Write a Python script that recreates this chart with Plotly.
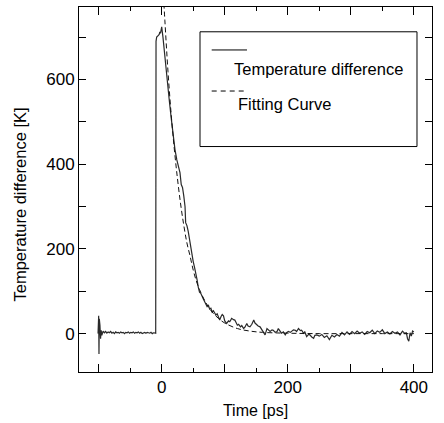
import plotly.graph_objects as go

time_ps = [
    -101, -100, -99.5, -99, -98.5, -98, -97, -96, -95, -93, -91, -89, -87, -85, -83, -81,
    -79, -77, -75, -73, -71, -69, -67, -65, -63, -61, -59, -57, -55, -53, -51, -49,
    -47, -45, -43, -41, -39, -37, -35, -33, -31, -29, -27, -25, -23, -21, -19, -17,
    -15, -13, -11, -9.5, -9, -8, -6, -4, -3, -2, -1, 0,
    2, 5, 8, 12, 15, 18, 21, 24, 27, 29, 31, 33, 35, 37, 38, 40, 42, 44, 46, 48,
    50, 52, 54, 56, 58, 60, 62, 64, 66, 68, 70, 72, 74, 76, 78, 80, 82, 84, 86, 88,
    90, 92, 94, 96, 98, 100, 103, 106, 108, 111, 114, 116, 118, 120, 122, 125, 127, 130,
    132, 135, 137, 140, 143, 146, 148, 151, 153, 156, 158, 161, 164, 167, 170, 172, 175,
    177, 180, 183, 185, 188, 190, 193, 196, 198, 201, 204, 206, 209, 212, 214, 217, 220,
    222, 225, 227, 230, 233, 235, 238, 241, 243, 246, 250, 254, 258, 262, 266, 270, 274,
    278, 282, 286, 290, 294, 298, 302, 306, 310, 314, 318, 322, 326, 330, 334, 338, 342,
    346, 350, 354, 358, 362, 366, 370, 374, 378, 382, 386, 388, 390, 392, 394, 396, 398, 400,
]
temp_diff_K = [
    0, 42, -48, 35, -30, 20, -12, 8, -4, 6, 2, 5, 1, 4, 2, 5,
    1, 3, 0, 4, 2, 3, 1, 4, 2, 3, 0, 3, 2, 4, 1, 3,
    2, 4, 1, 3, 2, 4, 1, 3, 0, 2, 3, 1, 3, 2, 1, 3,
    0, 2, 1, 1, 690, 700, 703, 706, 712, 709, 716, 724,
    700, 650, 600, 551, 510, 470, 435, 410, 388, 380, 352, 345, 325, 300, 262, 255, 242, 222, 200, 185,
    170, 157, 145, 128, 110, 98, 95, 86, 82, 76, 70, 64, 68, 58, 60, 51, 54, 50, 44, 47,
    40, 32, 40, 45, 42, 30, 24, 30, 28, 36, 33, 32, 26, 20, 22, 16, 19, 12,
    15, 24, 18, 16, 22, 32, 25, 20, 18, 16, 12, 5, -3, 12, 8, 5, 9,
    8, 3, 5, 12, 4, 1, 4, -3, 2, 5, 3, 5, 9, 8, 5, 12, 7,
    8, 1, 4, -7, -2, -3, -8, -11, -4, -3, -6, -2, -9, -5, -14, -4, -8,
    -2, -6, 3, -3, 4, -2, 5, 0, 6, 1, 4, -2, 5, 2, 8, 0, 6,
    3, 9, 0, 4, -1, 5, 1, 4, -3, 6, 0, 3, -12, -18, 2, -6, 6, 4,
]

# ---- fitting curve ----
fit_time_ps = [2, 5, 10, 15, 20, 25, 30, 35, 40, 45, 50, 55, 60, 70, 80, 90, 100,
               120, 140, 160, 200, 250, 300, 350, 400]
fit_temp_K = [817, 740, 618, 518, 436, 366, 306, 256, 214, 183, 150, 124, 104, 73, 51, 36, 25,
              12, 6, 3, 1, 0, 0, 0, 0]

x_tick_vals = [-100, 0, 100, 200, 300, 400]
x_tick_text = ["", "0", "", "200", "", "400"]
y_tick_vals = [0, 100, 200, 300, 400, 500, 600, 700]
y_tick_text = ["0", "", "200", "", "400", "", "600", ""]

legend_names = ["Temperature difference", "Fitting Curve"]
x_title = "Time [ps]"
y_title = "Temperature difference [K]"

FONT = "Liberation Sans, Arial, sans-serif"

fig = go.Figure()
fig.add_trace(go.Scatter(x=time_ps, y=temp_diff_K, mode="lines",
                         line=dict(color="#2a2a2a", width=1.2),
                         name=legend_names[0], showlegend=False))
fig.add_trace(go.Scatter(x=fit_time_ps, y=fit_temp_K, mode="lines",
                         line=dict(color="#111111", width=1, dash="5px,3px", shape="spline"),
                         name=legend_names[1], showlegend=False))

axis_common = dict(showgrid=False, zeroline=False, showline=True, linecolor="black",
                   linewidth=1, mirror="ticks", ticks="inside", tickcolor="black",
                   tickwidth=1, tickfont=dict(family=FONT, size=17, color="black"))

fig.update_xaxes(range=[-131.2, 428.8], tickmode="array", tickvals=x_tick_vals,
                 ticktext=x_tick_text, ticklen=8,
                 minor=dict(tickmode="array", tickvals=[-50, 50, 150, 250, 350],
                            ticks="inside", ticklen=4, tickcolor="black", tickwidth=1),
                 title=dict(text=x_title, font=dict(family=FONT, size=16, color="black"),
                            standoff=8),
                 **axis_common)
fig.update_yaxes(range=[-90.6, 771], tickmode="array", tickvals=y_tick_vals,
                 ticktext=y_tick_text, ticklen=7, **axis_common)

# manual legend box (line sample above, text offset below)
shapes = [
    dict(type="rect", xref="paper", yref="paper", x0=0.3428, x1=0.9575, y0=0.6177, y1=0.9321,
         line=dict(color="black", width=1), fillcolor="white", layer="above"),
    dict(type="line", xref="paper", yref="paper", x0=0.3759, x1=0.4759, y0=0.8823, y1=0.8823,
         line=dict(color="black", width=1)),
    dict(type="line", xref="paper", yref="paper", x0=0.3759, x1=0.4674, y0=0.7698, y1=0.7698,
         line=dict(color="black", width=1, dash="5px,4px")),
]
annotations = [
    dict(text=legend_names[0], xref="paper", yref="paper", x=0.4334, y=0.8288,
         xanchor="left", yanchor="middle", showarrow=False,
         font=dict(family=FONT, size=16.5, color="black")),
    dict(text=legend_names[1], xref="paper", yref="paper", x=0.4448, y=0.7337,
         xanchor="left", yanchor="middle", showarrow=False,
         font=dict(family=FONT, size=16.5, color="black")),
    dict(text=y_title, xref="paper", yref="paper", x=-0.167, y=0.459,
         xanchor="center", yanchor="middle", textangle=-90, showarrow=False,
         font=dict(family=FONT, size=16.5, color="black")),
]

fig.update_layout(width=444, height=423, margin=dict(l=79, r=12, t=6, b=49),
                  paper_bgcolor="white", plot_bgcolor="white",
                  shapes=shapes, annotations=annotations,
                  font=dict(family=FONT, color="black"))

fig.write_html("out.html")
